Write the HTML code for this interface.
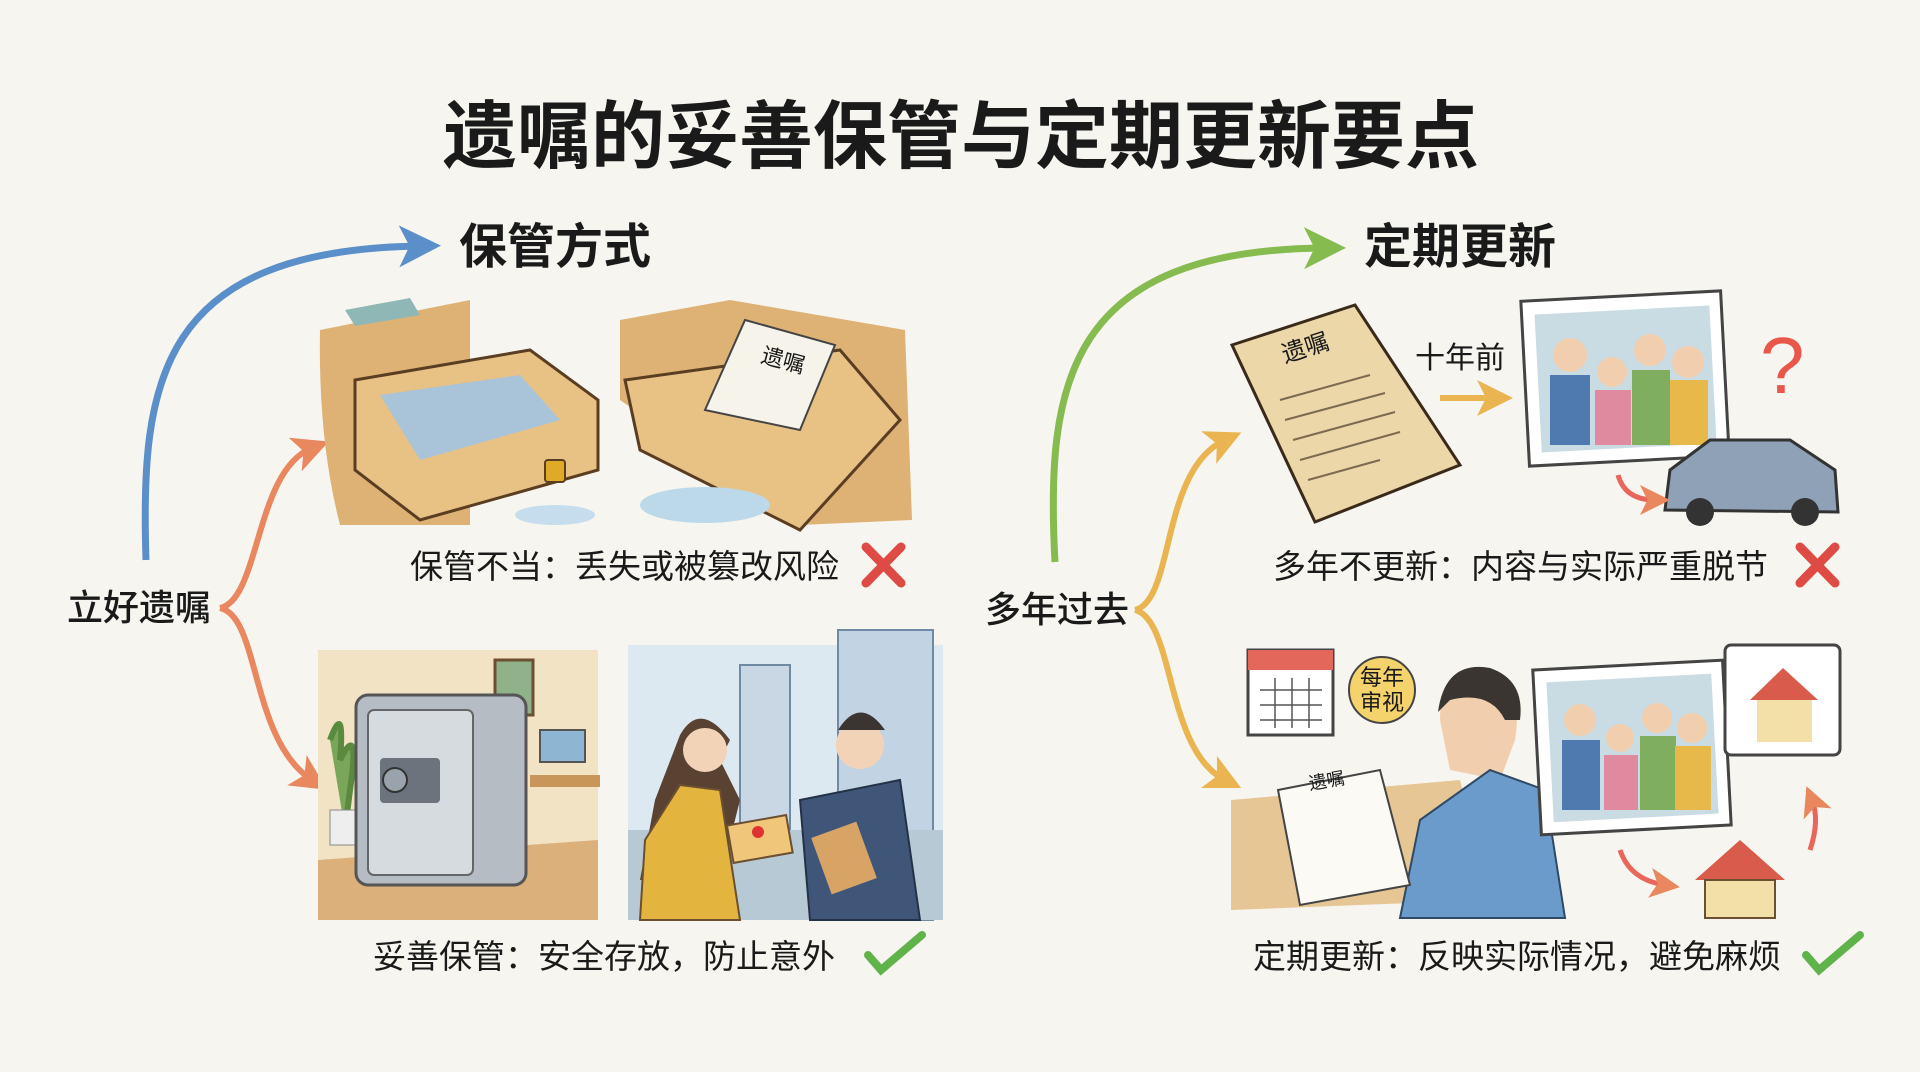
<!DOCTYPE html>
<html><head><meta charset="utf-8"><style>
html,body{margin:0;padding:0;background:#f7f5f0;}
svg{display:block}
text{font-family:"Liberation Sans","Noto Sans CJK SC",sans-serif;fill:#1a1a1a}
</style></head><body>
<svg width="1920" height="1072" viewBox="0 0 1920 1072" xmlns="http://www.w3.org/2000/svg">
<rect width="1920" height="1072" fill="#f7f5f0"/>
<defs>
<marker id="ab" markerWidth="6" markerHeight="6" refX="3" refY="3" orient="auto"><path d="M0,0 L6,3 L0,6 L1.5,3z" fill="#5b8fc9"/></marker>
<marker id="ag" markerWidth="6" markerHeight="6" refX="3" refY="3" orient="auto"><path d="M0,0 L6,3 L0,6 L1.5,3z" fill="#86bb4f"/></marker>
<marker id="ao" markerWidth="6" markerHeight="6" refX="3" refY="3" orient="auto"><path d="M0,0 L6,3 L0,6 L1.5,3z" fill="#e9875e"/></marker>
<marker id="ay" markerWidth="6" markerHeight="6" refX="3" refY="3" orient="auto"><path d="M0,0 L6,3 L0,6 L1.5,3z" fill="#eab550"/></marker>
</defs>
<text x="961" y="162" font-size="74" font-weight="bold" text-anchor="middle" font-family="Noto Sans CJK SC">遗嘱的妥善保管与定期更新要点</text>
<text x="459" y="263" font-size="48" font-weight="bold" font-family="Noto Sans CJK SC">保管方式</text>
<text x="1364" y="263" font-size="48" font-weight="bold" font-family="Noto Sans CJK SC">定期更新</text>

<path d="M146,560 C140,380 160,250 420,246" fill="none" stroke="#5b8fc9" stroke-width="7" marker-end="url(#ab)"/>
<path d="M1055,562 C1045,380 1070,250 1325,248" fill="none" stroke="#86bb4f" stroke-width="7" marker-end="url(#ag)"/>
<path d="M220,608 C260,600 255,470 312,448" fill="none" stroke="#e9875e" stroke-width="6" marker-end="url(#ao)"/>
<path d="M220,608 C260,616 250,740 312,780" fill="none" stroke="#e9875e" stroke-width="6" marker-end="url(#ao)"/>
<path d="M1135,610 C1175,600 1160,470 1225,440" fill="none" stroke="#eab550" stroke-width="6" marker-end="url(#ay)"/>
<path d="M1135,610 C1175,620 1165,750 1225,780" fill="none" stroke="#eab550" stroke-width="6" marker-end="url(#ay)"/>

<text x="67" y="620" font-size="36" font-weight="500" font-family="Noto Sans CJK SC">立好遗嘱</text>
<text x="985" y="622" font-size="36" font-weight="500" font-family="Noto Sans CJK SC">多年过去</text>

<path d="M320,330 L470,300 L470,525 L340,525 Q318,440 320,330z" fill="#ddb274"/>
<path d="M355,380 L530,350 L598,400 L598,470 L420,520 L355,470z" fill="#e8c285" stroke="#5a3e22" stroke-width="3"/>
<path d="M380,395 L520,375 L560,420 L420,460z" fill="#a9c4d8"/>
<path d="M345,310 L410,298 L420,315 L355,326z" fill="#8fb7b6"/>
<path d="M620,320 L730,300 L905,330 L912,520 L800,525 L620,400z" fill="#ddb274"/>
<path d="M625,380 L840,350 L900,420 L800,530 L640,450z" fill="#e8c285" stroke="#5a3e22" stroke-width="3"/>
<path d="M745,320 L835,345 L800,430 L705,410z" fill="#f6f3ea" stroke="#444" stroke-width="2"/>
<text x="760" y="362" font-size="22" font-family="Noto Sans CJK SC" transform="rotate(15 760 362)">遗嘱</text>
<ellipse cx="705" cy="505" rx="65" ry="18" fill="#bcd9ea"/>
<ellipse cx="555" cy="515" rx="40" ry="10" fill="#c6dded"/>
<rect x="545" y="460" width="20" height="22" rx="3" fill="#e0a928" stroke="#5a3e22" stroke-width="2"/>

<text x="410" y="578" font-size="33" font-family="Noto Sans CJK SC">保管不当：丢失或被篡改风险</text>
<path d="M866,547 L901,583 M901,547 L866,583" stroke="#de4b45" stroke-width="9" stroke-linecap="round"/>

<rect x="318" y="650" width="280" height="270" fill="#f1e3c4"/>
<path d="M318,860 L598,840 L598,920 L318,920z" fill="#dcb07b"/>
<rect x="495" y="660" width="38" height="55" fill="#8fb28a" stroke="#6b4f30" stroke-width="3"/>
<rect x="530" y="775" width="70" height="12" fill="#c99659"/>
<rect x="540" y="730" width="45" height="32" fill="#8eb6d2" stroke="#555" stroke-width="2"/>
<path d="M330,740 Q345,700 340,760 Q360,720 350,790 L345,830" fill="#7aa65a" stroke="#5a8a3e" stroke-width="6"/>
<rect x="330" y="810" width="28" height="35" fill="#eee" stroke="#888"/>
<rect x="356" y="695" width="170" height="190" rx="12" fill="#b6bcc4" stroke="#555" stroke-width="3"/>
<rect x="368" y="710" width="105" height="165" rx="6" fill="#d6dbe0" stroke="#666" stroke-width="2"/>
<rect x="380" y="758" width="60" height="45" rx="4" fill="#6c737c"/>
<circle cx="395" cy="780" r="12" fill="#9aa2ab" stroke="#333" stroke-width="2"/>

<rect x="628" y="645" width="315" height="275" fill="#dde9f1"/>
<rect x="740" y="665" width="50" height="235" fill="#c9d7e4" stroke="#6f8aa3" stroke-width="2"/>
<rect x="838" y="630" width="95" height="290" fill="#c2d3e3" stroke="#6f8aa3" stroke-width="2"/>
<rect x="628" y="830" width="315" height="90" fill="#b7c9d4"/>
<path d="M680,735 Q700,700 730,740 L720,760 L740,800 L720,880 L640,880 L655,800z" fill="#5a4232"/>
<path d="M645,840 L680,785 L720,790 L740,920 L640,920z" fill="#e3b53f" stroke="#6b4f30" stroke-width="2"/>
<circle cx="705" cy="750" r="22" fill="#f3d3b8"/>
<circle cx="860" cy="745" r="24" fill="#f3d3b8"/>
<path d="M838,730 Q860,695 885,730" fill="#3a3530"/>
<path d="M800,800 L900,780 L920,920 L810,920z" fill="#3f5679" stroke="#243247" stroke-width="2"/>
<rect x="730" y="820" width="60" height="38" fill="#f0c67a" stroke="#6b4f30" stroke-width="2" transform="rotate(-10 760 840)"/>
<circle cx="758" cy="832" r="6" fill="#d33"/>
<rect x="820" y="828" width="48" height="60" fill="#d7a466" transform="rotate(-20 844 858)"/>

<text x="373" y="968" font-size="33" font-family="Noto Sans CJK SC">妥善保管：安全存放，防止意外</text>
<path d="M868,955 L881,970 L922,935" fill="none" stroke="#5fb34a" stroke-width="8" stroke-linecap="round"/>

<path d="M1232,345 L1355,305 L1460,465 L1315,522 z" fill="#ecd7a8" stroke="#3a2a1a" stroke-width="3"/>
<text x="1285" y="363" font-size="24" font-family="Noto Sans CJK SC" transform="rotate(-18 1285 363)">遗嘱</text>
<g stroke="#7a6a50" stroke-width="2"><line x1="1280" y1="400" x2="1370" y2="375"/><line x1="1285" y1="420" x2="1385" y2="393"/><line x1="1293" y1="440" x2="1395" y2="412"/><line x1="1300" y1="460" x2="1400" y2="432"/><line x1="1308" y1="480" x2="1380" y2="460"/></g>
<text x="1415" y="368" font-size="30" font-family="Noto Sans CJK SC">十年前</text>
<path d="M1440,398 L1495,398" stroke="#eab550" stroke-width="6" marker-end="url(#ay)"/>
<rect x="1525" y="296" width="200" height="165" fill="#fff" stroke="#444" stroke-width="3" transform="rotate(-3 1625 378)"/>
<rect x="1538" y="310" width="175" height="138" fill="#c9dbe3" transform="rotate(-3 1625 378)"/>
<g><circle cx="1570" cy="355" r="17" fill="#f1cfae"/><rect x="1550" y="375" width="40" height="70" fill="#4f7ab0"/>
<circle cx="1612" cy="372" r="15" fill="#f1cfae"/><rect x="1595" y="390" width="36" height="55" fill="#e08aa0"/>
<circle cx="1650" cy="350" r="16" fill="#f1cfae"/><rect x="1632" y="370" width="38" height="75" fill="#7fae5e"/>
<circle cx="1688" cy="362" r="16" fill="#f1cfae"/><rect x="1670" y="380" width="38" height="65" fill="#e7b84a"/></g>
<path d="M1665,510 L1670,470 L1710,440 L1790,440 L1835,470 L1838,512z" fill="#8fa1b6" stroke="#333" stroke-width="3"/>
<circle cx="1700" cy="512" r="14" fill="#333"/><circle cx="1805" cy="512" r="14" fill="#333"/>
<path d="M1618,475 Q1625,500 1655,500" fill="none" stroke="#e9665a" stroke-width="5" marker-end="url(#ao)"/>
<text x="1760" y="393" font-size="80" font-family="Noto Sans CJK SC" style="fill:#e9574b">?</text>

<text x="1273" y="578" font-size="33" font-family="Noto Sans CJK SC">多年不更新：内容与实际严重脱节</text>
<path d="M1800,547 L1835,583 M1835,547 L1800,583" stroke="#de4b45" stroke-width="9" stroke-linecap="round"/>

<path d="M1231,800 L1460,780 L1490,900 L1231,910z" fill="#e6c694"/>
<rect x="1248" y="650" width="85" height="85" fill="#fff" stroke="#444" stroke-width="3"/>
<rect x="1248" y="650" width="85" height="20" fill="#e4675b"/>
<g stroke="#555" stroke-width="1.5"><line x1="1260" y1="690" x2="1322" y2="690"/><line x1="1260" y1="705" x2="1322" y2="705"/><line x1="1260" y1="720" x2="1322" y2="720"/><line x1="1275" y1="678" x2="1275" y2="728"/><line x1="1292" y1="678" x2="1292" y2="728"/><line x1="1309" y1="678" x2="1309" y2="728"/></g>
<circle cx="1382" cy="690" r="33" fill="#f4d26c" stroke="#444" stroke-width="2"/>
<text x="1382" y="685" font-size="22" text-anchor="middle" font-family="Noto Sans CJK SC">每年</text>
<text x="1382" y="710" font-size="22" text-anchor="middle" font-family="Noto Sans CJK SC">审视</text>
<path d="M1440,720 Q1440,665 1485,668 Q1525,680 1515,740 L1500,780 L1450,770z" fill="#f1cfae"/>
<path d="M1438,712 Q1445,660 1490,668 Q1525,680 1520,720 L1505,720 Q1490,690 1450,700z" fill="#3a3530"/>
<path d="M1400,918 L1420,820 L1490,770 L1545,790 L1565,918z" fill="#6b9bcb" stroke="#2f4a66" stroke-width="2"/>
<path d="M1278,790 L1380,770 L1410,885 L1300,905z" fill="#fbfaf5" stroke="#444" stroke-width="2"/>
<text x="1310" y="790" font-size="18" font-family="Noto Sans CJK SC" transform="rotate(-10 1310 790)">遗嘱</text>
<rect x="1537" y="665" width="190" height="165" fill="#fff" stroke="#444" stroke-width="3" transform="rotate(-3 1632 748)"/>
<rect x="1550" y="678" width="165" height="140" fill="#c9dbe3" transform="rotate(-3 1632 748)"/>
<g><circle cx="1580" cy="720" r="16" fill="#f1cfae"/><rect x="1562" y="740" width="38" height="70" fill="#4f7ab0"/>
<circle cx="1620" cy="738" r="14" fill="#f1cfae"/><rect x="1604" y="755" width="34" height="55" fill="#e08aa0"/>
<circle cx="1657" cy="718" r="15" fill="#f1cfae"/><rect x="1640" y="736" width="36" height="74" fill="#7fae5e"/>
<circle cx="1692" cy="728" r="15" fill="#f1cfae"/><rect x="1675" y="746" width="36" height="64" fill="#e7b84a"/></g>
<rect x="1725" y="645" width="115" height="110" rx="6" fill="#fff" stroke="#444" stroke-width="3"/>
<path d="M1750,700 L1783,668 L1818,700z" fill="#d95b4b"/><rect x="1757" y="700" width="55" height="42" fill="#f3dfa8"/>
<path d="M1695,880 L1740,840 L1785,880z" fill="#d95b4b"/><rect x="1705" y="880" width="70" height="38" fill="#f3dfa8" stroke="#6b4f30" stroke-width="2"/>
<path d="M1620,850 Q1630,880 1665,885" fill="none" stroke="#e9665a" stroke-width="5" marker-end="url(#ao)"/>
<path d="M1810,850 Q1820,820 1812,800" fill="none" stroke="#e9665a" stroke-width="5" marker-end="url(#ao)"/>

<text x="1253" y="968" font-size="33" font-family="Noto Sans CJK SC">定期更新：反映实际情况，避免麻烦</text>
<path d="M1806,955 L1819,970 L1860,935" fill="none" stroke="#5fb34a" stroke-width="8" stroke-linecap="round"/>
</svg>
</body></html>
